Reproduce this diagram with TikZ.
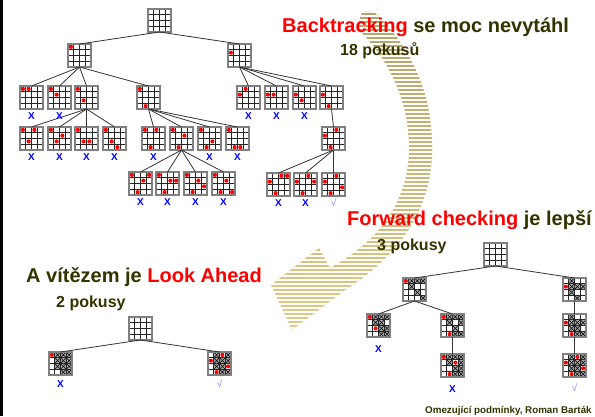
\documentclass[tikz,border=0pt]{standalone}
\usepackage{fontspec}
\setmainfont{Liberation Sans}
\usepackage{tikz}
\usetikzlibrary{positioning}

\definecolor{Olive}{HTML}{333300}
\definecolor{FailBlue}{HTML}{0000FF}
\definecolor{OkBlue}{HTML}{8080FF}
\definecolor{ArrowTop}{HTML}{B4A368}
\definecolor{ArrowBot}{HTML}{DFCC86}

\newcommand\cellsz{5.75}

\tikzset{
	boardbg/.style={fill=white, minimum size=23pt, inner sep=0pt, outer sep=0pt},
	boardframe/.style={draw=black!50, line width=1.3pt},
	gridline/.style={black!85, line width=0.9pt},
	queen/.style={fill=red},
	xcell/.style={fill=black!35},
	xline/.style={black, line width=0.6pt},
	edge/.style={black!80, line width=0.8pt},
	fail/.style={text=FailBlue, font=\bfseries\fontsize{10}{10}\selectfont, inner sep=0pt},
	ok/.style={text=OkBlue, font=\fontsize{10}{10}\selectfont, inner sep=0pt},
	heading/.style={text=Olive, font=\bfseries\fontsize{20}{24}\selectfont, inner sep=0pt, anchor=base west},
	tries/.style={text=Olive, font=\bfseries\fontsize{16}{19}\selectfont, inner sep=0pt, anchor=base west},
	footer/.style={text=Olive, font=\bfseries\fontsize{9.8}{11}\selectfont, inner sep=0pt, anchor=base west}
}

% ------------------------------------------------
% one 4x4 board: name, left, top, queens (col/row), crossed cells (col/row)
\newcommand\board[5]{%
	\node[boardbg] (#1) at ({#2+11.5},{#3+11.5}) {};
	\begin{scope}[shift={(#1.north west)}]
		\if\relax\detokenize{#5}\relax\else
		\foreach \c/\r in {#5} {
			\fill[xcell] ({(\c-1)*\cellsz},{(\r-1)*\cellsz}) rectangle ++(\cellsz,\cellsz);
			\draw[xline] ({(\c-1)*\cellsz},{(\r-1)*\cellsz}) -- ++(\cellsz,\cellsz)
				({\c*\cellsz},{(\r-1)*\cellsz}) -- ++(-\cellsz,\cellsz);
		}
		\fi
		\foreach \i in {1,2,3} {
			\draw[gridline] ({\i*\cellsz},0) -- ({\i*\cellsz},23);
			\draw[gridline] (0,{\i*\cellsz}) -- (23,{\i*\cellsz});
		}
		\if\relax\detokenize{#4}\relax\else
		\foreach \c/\r in {#4}
			\fill[queen] ({(\c-0.5)*\cellsz},{(\r-0.5)*\cellsz}) circle (2.1);
		\fi
	\end{scope}
	\draw[boardframe] (#1.north west) rectangle (#1.south east);
}

\begin{document}
\begin{tikzpicture}[x=1pt, y=-1pt]
	
	\useasboundingbox (0,0) rectangle (595,416);
	\fill[black] (0,0) rectangle (2.5,416);
	
	% ------------------------------------------------
	% Striped curved arrow
	\begin{scope}
		\clip (362,12) -- (373,11)
			.. controls (415,50) and (434,100) .. (432,155)
			.. controls (430,210) and (400,255) .. (345,290)
			-- (292,330) -- (271,285) -- (319,248) -- (330,268)
			.. controls (385,238) and (410,195) .. (409,145)
			.. controls (408,95) and (385,55) .. (357,28) -- cycle;
		\shade[top color=ArrowTop, bottom color=ArrowBot] (260,8) rectangle (440,334);
		\foreach \yy in {12,16,...,332}
			\draw[white, line width=1.3pt] (260,\yy) -- (440,\yy);
	\end{scope}
	
	% ------------------------------------------------
	% Headings
	\node[heading] (BtTitle) at (282,32) {\textcolor{red}{Backtracking} se moc nevytáhl};
	\node[tries] (BtTries) at (340,55) {18 pokusů};
	\node[heading] (FcTitle) at (347,225) {\textcolor{red}{Forward checking} je lepší};
	\node[tries] (FcTries) at (377,250) {3 pokusy};
	\node[heading] (LaTitle) at (26,282) {A vítězem je \textcolor{red}{Look Ahead}};
	\node[tries] (LaTries) at (56,307) {2 pokusy};
	\node[footer] (Footer) at (425,413) {Omezující podmínky, Roman Barták};
	
	% ------------------------------------------------
	% Backtracking tree
	\board{BtRoot}{148}{9}{}{}
	\board{BtA}{68}{44}{1/1}{}
	\board{BtB}{228}{44}{1/2}{}
	
	\board{BtAA}{20}{86}{1/1,2/1}{}
	\board{BtAB}{48}{86}{1/1,2/2}{}
	\board{BtAC}{75}{86}{1/1,2/3}{}
	\board{BtAD}{137}{86}{1/1,2/4}{}
	
	\board{BtACA}{20}{127}{1/1,2/3,3/1}{}
	\board{BtACB}{48}{127}{1/1,2/3,3/2}{}
	\board{BtACC}{75}{127}{1/1,2/3,3/3}{}
	\board{BtACD}{103}{127}{1/1,2/3,3/4}{}
	
	\board{BtADA}{142}{127}{1/1,2/4,3/1}{}
	\board{BtADB}{170}{127}{1/1,2/4,3/2}{}
	\board{BtADC}{198}{127}{1/1,2/4,3/3}{}
	\board{BtADD}{226}{127}{1/1,2/4,3/4}{}
	
	\board{BtADBA}{129}{172}{1/1,2/4,3/2,4/1}{}
	\board{BtADBB}{156}{172}{1/1,2/4,3/2,4/2}{}
	\board{BtADBC}{184}{172}{1/1,2/4,3/2,4/3}{}
	\board{BtADBD}{212}{172}{1/1,2/4,3/2,4/4}{}
	
	\board{BtBA}{237}{86}{1/2,2/1}{}
	\board{BtBB}{265}{86}{1/2,2/2}{}
	\board{BtBC}{293}{86}{1/2,2/3}{}
	\board{BtBD}{320}{86}{1/2,2/4}{}
	
	\board{BtBDA}{322}{127}{1/2,2/4,3/1}{}
	
	\board{BtBDAA}{267}{173}{1/2,2/4,3/1,4/1}{}
	\board{BtBDAB}{294}{173}{1/2,2/4,3/1,4/2}{}
	\board{BtBDAC}{322}{173}{1/2,2/4,3/1,4/3}{}
	
	\foreach \p/\q in {BtRoot/BtA, BtRoot/BtB,
			BtA/BtAA, BtA/BtAB, BtA/BtAC, BtA/BtAD,
			BtAC/BtACA, BtAC/BtACB, BtAC/BtACC, BtAC/BtACD,
			BtAD/BtADA, BtAD/BtADB, BtAD/BtADC, BtAD/BtADD,
			BtADB/BtADBA, BtADB/BtADBB, BtADB/BtADBC, BtADB/BtADBD,
			BtB/BtBA, BtB/BtBB, BtB/BtBC, BtB/BtBD,
			BtBD/BtBDA,
			BtBDA/BtBDAA, BtBDA/BtBDAB, BtBDA/BtBDAC}
		\draw[edge] (\p.south) -- (\q.north);
	
	\foreach \n in {BtAA, BtAB, BtACA, BtACB, BtACC, BtACD, BtADA, BtADC, BtADD,
			BtADBA, BtADBB, BtADBC, BtADBD, BtBA, BtBB, BtBC, BtBDAA, BtBDAB}
		\node[fail, below=3pt of \n] (\n X) {X};
	\node[ok, below=2pt of BtBDAC] (BtBDACok) {√};
	
	% ------------------------------------------------
	% Forward checking tree
	\board{FcRoot}{484}{243}{}{}
	\board{FcA}{403}{278}{1/1}{2/1,3/1,4/1,2/2,3/3,4/4}
	\board{FcB}{563}{278}{1/2}{2/1,2/2,2/3,3/2,4/2,3/4}
	\board{FcAA}{367}{314}{1/1,2/3}{2/1,2/2,3/1,3/2,3/3,3/4,4/1,4/3,4/4}
	\board{FcAB}{441}{314}{1/1,2/4}{2/1,2/2,3/1,3/3,3/4,4/1,4/2,4/4}
	\board{FcABA}{441}{354}{1/1,2/4,3/2}{2/1,2/2,3/1,3/3,3/4,4/1,4/2,4/3,4/4}
	\board{FcBA}{563}{314}{1/2,2/4}{2/1,2/2,2/3,3/2,3/3,3/4,4/2,4/4}
	\board{FcBAA}{563}{354}{1/2,2/4,3/1,4/3}{2/1,2/2,2/3,3/2,3/3,3/4,4/1,4/2,4/4}
	
	\foreach \p/\q in {FcRoot/FcA, FcRoot/FcB, FcA/FcAA, FcA/FcAB,
			FcAB/FcABA, FcB/FcBA, FcBA/FcBAA}
		\draw[edge] (\p.south) -- (\q.north);
	
	\node[fail, below=8pt of FcAA] (FcAAX) {X};
	\node[fail, below=8pt of FcABA] (FcABAX) {X};
	\node[ok, below=6pt of FcBAA] (FcBAAok) {√};
	
	% ------------------------------------------------
	% Look ahead tree
	\board{LaRoot}{129}{317}{}{}
	\board{LaA}{49}{352}{1/1}{2/1,3/1,4/1,2/2,3/2,4/2,2/3,3/3,4/3,3/4,4/4}
	\board{LaB}{208}{352}{1/2,2/4,3/1,4/3}{2/1,2/2,2/3,3/2,3/3,3/4,4/1,4/2,4/4}
	
	\draw[edge] (LaRoot.south) -- (LaA.north);
	\draw[edge] (LaRoot.south) -- (LaB.north);
	
	\node[fail, below=5pt of LaA] (LaAX) {X};
	\node[ok, below=4pt of LaB] (LaBok) {√};
	
\end{tikzpicture}
\end{document}
